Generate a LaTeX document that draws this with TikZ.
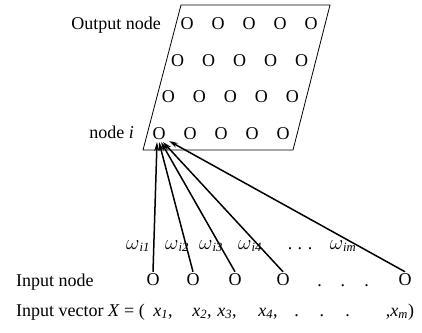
\documentclass[tikz,border=0pt]{standalone}
\usepackage{fontspec}
\setmainfont{Liberation Serif}
\usetikzlibrary{arrows.meta}

\newcommand{\wgt}[1]{{\fontsize{21}{24}\selectfont$\omega$}\textsubscript{\textit{#1}}}
\newcommand{\xkomp}[1]{\textit{x}\textsubscript{\textit{#1}}}

\tikzset{
  knoten/.style={font=\fontsize{18}{20}\selectfont, inner sep=2pt},
  txt/.style={font=\fontsize{18}{20}\selectfont, inner sep=0pt, anchor=base},
  gewicht/.style={-{Stealth[length=9pt,width=5pt]}, line width=1.5pt},
}

\begin{document}
\begin{tikzpicture}[x=1pt,y=-1pt]
  \useasboundingbox (0,0) rectangle (422,332);

  % Ausgabeschicht (Parallelogramm)
  \draw[line width=0.8pt] (181,5) -- (330,5) -- (293,150) -- (143,150) -- cycle;

  % Ausgabeknoten, 4 Zeilen zu je 5
  \foreach \zeile in {1,...,4}
    \foreach \spalte in {1,...,5}
      \node[knoten] (o-\zeile-\spalte)
        at ({187-9.33*(\zeile-1)+31*(\spalte-1)},{24+36.5*(\zeile-1)}) {O};

  \node[txt, anchor=base east] (outlbl) at (161,29)  {Output node};
  \node[txt, anchor=base east] (nodei)  at (134,138) {node \textit{i}};

  % Eingabeknoten
  \node[txt, anchor=base west] (inlbl) at (16,286) {Input node};
  \node[knoten] (in1) at (153,280) {O};
  \node[knoten] (in2) at (193,280) {O};
  \node[knoten] (in3) at (235,280) {O};
  \node[knoten] (in4) at (283,280) {O};
  \node[txt]    (indots) at (343,286) {.\hspace{19pt}.\hspace{19pt}.};
  \node[knoten] (inm) at (405,280) {O};

  % Pfeilspitzen am Knoten i
  \coordinate (e1) at (157,142);
  \coordinate (e2) at (159,142);
  \coordinate (e3) at (161,142);
  \coordinate (e4) at (163,142);
  \coordinate (em) at (169,141);

  % Gewichte
  \draw[gewicht] (in1.north) -- (e1);
  \draw[gewicht] (in2.north) -- (e2);
  \draw[gewicht] (in3.north) -- (e3);
  \draw[gewicht] (in4.north) -- (e4);
  \draw[gewicht] (inm.north) -- (em);

  \node[txt] (w1) at (138,249) {\wgt{i1}};
  \node[txt] (w2) at (177,249) {\wgt{i2}};
  \node[txt] (w3) at (211,249) {\wgt{i3}};
  \node[txt] (w4) at (250,249) {\wgt{i4}};
  \node[txt] (wdots) at (300,249) {.\hspace{5.5pt}.\hspace{5.5pt}.};
  \node[txt] (wm) at (343,249) {\wgt{im}};

  % Eingabevektor
  \node[txt, anchor=base west] (vec) at (16,316) {Input vector \textit{X} = (};
  \node[txt] (x1) at (163,316) {\xkomp{1},};
  \node[txt] (x2) at (202,316) {\xkomp{2},};
  \node[txt] (x3) at (227,316) {\xkomp{3},};
  \node[txt] (x4) at (268,316) {\xkomp{4},};
  \node[txt] (xdots) at (322,316) {.\hspace{21pt}.\hspace{21pt}.};
  \node[txt] (xm) at (400,316) {,\xkomp{m})};
\end{tikzpicture}
\end{document}
